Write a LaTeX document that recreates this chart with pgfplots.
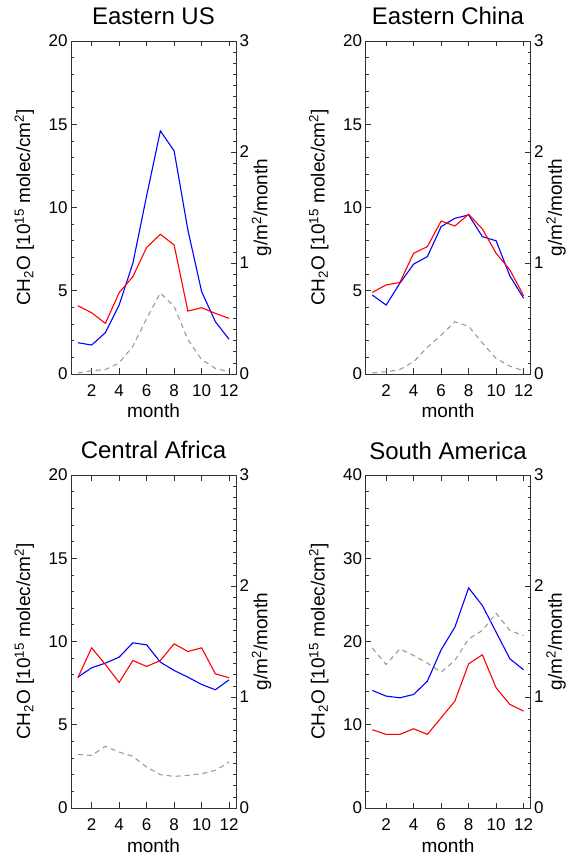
\documentclass[border=0pt]{standalone}
\usepackage{fontspec}
\setmainfont{Liberation Sans}
\usepackage{pgfplots}
\pgfplotsset{compat=1.18}
\definecolor{axgray}{RGB}{50,50,50}
\definecolor{dashgray}{RGB}{155,155,155}

\pgfplotsset{
  panel/.style={scale only axis, width=165pt, height=333pt, xmin=0.5, xmax=12.5,
    axis line style={draw=axgray, line width=0.8pt}, tick style={draw=axgray, line width=0.7pt},
    tick align=inside, major tick length=5.5pt, minor tick length=3pt,
    /pgf/number format/assume math mode=true,
    tick label style={font=\fontsize{17}{20}\selectfont},
    label style={font=\fontsize{19}{22}\selectfont},
    title style={font=\fontsize{24}{28}\selectfont, at={(axis description cs:0.5,1)}, anchor=base, yshift=10pt},
  },
  leftax/.style={panel, ymin=0, xtick={2,4,...,12}, xtick pos=both, xticklabel pos=bottom,
    ytick pos=left, minor y tick num=4,
    xticklabel style={yshift=-7pt},
    xlabel={month}, xlabel style={at={(axis description cs:0.5,0)}, anchor=base, yshift=-44pt},
    ylabel={CH\textsubscript{2}O [10\textsuperscript{15} molec/cm\textsuperscript{2}]},
    ylabel style={at={(axis description cs:-0.248,0.5)}, anchor=base, rotate=0},
  },
  rightax/.style={panel, axis x line=none, axis y line*=right, ymin=0, ymax=3,
    ytick={0,1,2,3}, minor y tick num=9,
    ylabel={g/m\textsuperscript{2}/month},
    ylabel style={at={(axis description cs:1.19,0.5)}, anchor=base, rotate=0},
  },
  bl/.style={color=blue, line width=1.1pt},
  rd/.style={color=red, line width=1.1pt},
  gr/.style={color=dashgray, line width=1.1pt, dash pattern=on 5pt off 4pt},
}

\begin{document}
\begin{tikzpicture}
\useasboundingbox (0,0) rectangle (569pt,855pt);

% Eastern US
\begin{axis}[leftax, at={(71pt,481pt)}, anchor=south west, ymax=20, ytick={0,5,...,20}, title={Eastern US}]
\addplot[bl] coordinates {(1,1.88) (2,1.74) (3,2.48) (4,4.14) (5,6.65) (6,10.7) (7,14.6) (8,13.4) (9,8.65) (10,4.95) (11,3.14) (12,2.08)};
\addplot[rd] coordinates {(1,4.1) (2,3.68) (3,3.04) (4,4.88) (5,5.85) (6,7.6) (7,8.39) (8,7.75) (9,3.78) (10,3.98) (11,3.64) (12,3.34)};
\end{axis}
\begin{axis}[rightax, at={(71pt,481pt)}, anchor=south west]
\addplot[gr] coordinates {(1,0.01) (2,0.03) (3,0.04) (4,0.1) (5,0.25) (6,0.5) (7,0.73) (8,0.61) (9,0.31) (10,0.13) (11,0.05) (12,0.02)};
\end{axis}

% Eastern China
\begin{axis}[leftax, at={(365.5pt,481pt)}, anchor=south west, ymax=20, ytick={0,5,...,20}, title={Eastern China}]
\addplot[bl] coordinates {(1,4.74) (2,4.14) (3,5.45) (4,6.6) (5,7.05) (6,8.85) (7,9.35) (8,9.55) (9,8.25) (10,8.0) (11,5.89) (12,4.55)};
\addplot[rd] coordinates {(1,4.9) (2,5.35) (3,5.5) (4,7.25) (5,7.65) (6,9.19) (7,8.89) (8,9.59) (9,8.71) (10,7.25) (11,6.25) (12,4.7)};
\end{axis}
\begin{axis}[rightax, at={(365.5pt,481pt)}, anchor=south west]
\addplot[gr] coordinates {(1,0.01) (2,0.02) (3,0.04) (4,0.11) (5,0.24) (6,0.35) (7,0.47) (8,0.43) (9,0.28) (10,0.14) (11,0.07) (12,0.03)};
\end{axis}

% Central Africa
\begin{axis}[leftax, at={(71pt,47pt)}, anchor=south west, ymax=20, ytick={0,5,...,20}, title={Central Africa}]
\addplot[bl] coordinates {(1,7.86) (2,8.42) (3,8.7) (4,9.06) (5,9.92) (6,9.8) (7,8.76) (8,8.26) (9,7.86) (10,7.42) (11,7.1) (12,7.7)};
\addplot[rd] coordinates {(1,7.82) (2,9.62) (3,8.62) (4,7.54) (5,8.86) (6,8.5) (7,8.86) (8,9.86) (9,9.4) (10,9.62) (11,8.06) (12,7.82)};
\end{axis}
\begin{axis}[rightax, at={(71pt,47pt)}, anchor=south west]
\addplot[gr] coordinates {(1,0.483) (2,0.474) (3,0.555) (4,0.504) (5,0.465) (6,0.369) (7,0.30) (8,0.285) (9,0.294) (10,0.309) (11,0.339) (12,0.414)};
\end{axis}

% South America
\begin{axis}[leftax, at={(365.5pt,47pt)}, anchor=south west, ymax=40, ytick={0,10,...,40}, title={South America}]
\addplot[bl] coordinates {(1,14.12) (2,13.44) (3,13.24) (4,13.64) (5,15.24) (6,19.0) (7,21.72) (8,26.44) (9,24.32) (10,21.12) (11,17.92) (12,16.6)};
\addplot[rd] coordinates {(1,9.4) (2,8.84) (3,8.84) (4,9.52) (5,8.84) (6,10.84) (7,12.84) (8,17.32) (9,18.4) (10,14.44) (11,12.44) (12,11.64)};
\end{axis}
\begin{axis}[rightax, at={(365.5pt,47pt)}, anchor=south west]
\addplot[gr] coordinates {(1,1.44) (2,1.293) (3,1.434) (4,1.374) (5,1.305) (6,1.224) (7,1.329) (8,1.524) (9,1.599) (10,1.755) (11,1.599) (12,1.554)};
\end{axis}
\end{tikzpicture}
\end{document}
